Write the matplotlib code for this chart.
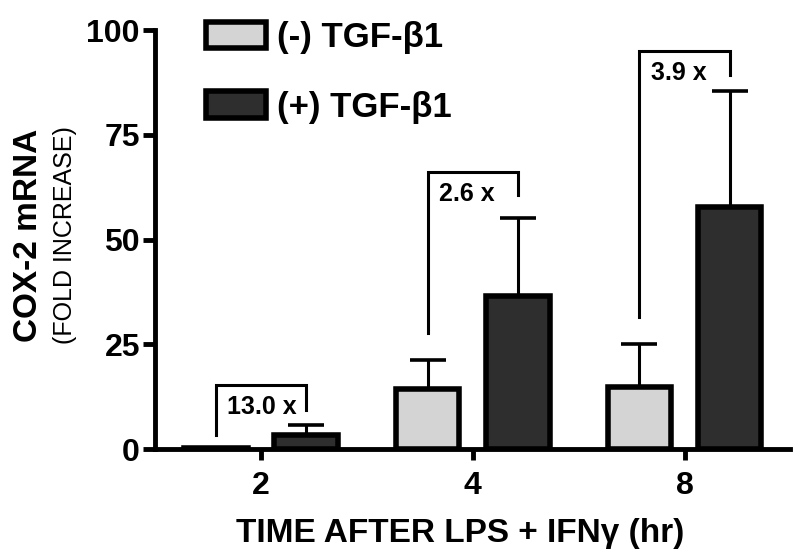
import matplotlib
matplotlib.use("Agg")
import matplotlib.pyplot as plt
from matplotlib.patches import Patch
import numpy as np

plt.rcParams['font.family'] = ['Liberation Sans', 'DejaVu Sans']

categories = ["2", "4", "8"]
minus_tgf = [0.4, 14.3, 14.8]
minus_err = [0.0, 6.9, 10.3]
plus_tgf = [3.5, 36.5, 57.8]
plus_err = [2.2, 18.6, 27.6]
fold_labels = ["13.0 x", "2.6 x", "3.9 x"]
bracket_top = [15.3, 66.1, 95.0]
bracket_left_bottom = [3.3, 27.7, 31.5]
bracket_right_bottom = [9.3, 60.6, 89.3]
series_labels = ["(-) TGF-\u03b21", "(+) TGF-\u03b21"]
yticks = [0, 25, 50, 75, 100]

light = "#d4d4d4"
dark = "#2e2e2e"

fig = plt.figure(figsize=(8, 5.58), dpi=100)
ax = fig.add_axes([0.194, 0.195, 0.794, 0.751])

x = np.arange(len(categories))
off = 0.213
w = 0.30
ax.bar(x - off, minus_tgf, w, color=light, edgecolor="black", linewidth=4, zorder=3)
ax.bar(x + off, plus_tgf, w, color=dark, edgecolor="black", linewidth=4, zorder=3)
ax.errorbar(x - off, minus_tgf, yerr=[np.zeros(3), minus_err], fmt="none",
            ecolor="black", elinewidth=2.2, capsize=13, capthick=2.6, zorder=2)
ax.errorbar(x + off, plus_tgf, yerr=[np.zeros(3), plus_err], fmt="none",
            ecolor="black", elinewidth=2.2, capsize=13, capthick=2.6, zorder=2)

for i in range(len(categories)):
    xl, xr = x[i] - off, x[i] + off
    ax.plot([xl, xl, xr, xr],
            [bracket_left_bottom[i], bracket_top[i], bracket_top[i], bracket_right_bottom[i]],
            color="black", lw=2.2, solid_joinstyle="miter", zorder=4)
    ax.annotate(fold_labels[i], xy=(xl, bracket_top[i]), xytext=(8, -16),
                textcoords="offset points", ha="left", va="center",
                fontsize=18, fontweight="bold")

ax.set_xlim(-0.5, 2.5)
ax.set_ylim(0, 100)
ax.set_xticks(x)
ax.set_xticklabels(categories)
ax.set_yticks(yticks)
ax.tick_params(axis="y", labelsize=23, width=3.5, length=9, direction="out", pad=2)
ax.tick_params(axis="x", labelsize=23, width=3.5, length=8, direction="out", pad=8)
for lab in ax.get_xticklabels() + ax.get_yticklabels():
    lab.set_fontweight("bold")
for s in ["top", "right"]:
    ax.spines[s].set_visible(False)
for s in ["left", "bottom"]:
    ax.spines[s].set_linewidth(3.5)

ax.set_xlabel("TIME AFTER LPS + IFN\u03b3 (hr)", fontsize=24, fontweight="bold")
ax.xaxis.set_label_coords(0.48, -0.2)
ax.xaxis.label.set_va("center")
fig.text(0.036, 0.579, "COX-2 mRNA", rotation=90, fontsize=24, fontweight="bold",
         ha="center", va="center")
fig.text(0.081, 0.579, "(FOLD INCREASE)", rotation=90, fontsize=18,
         ha="center", va="center")

handles = [Patch(facecolor=light, edgecolor="black", linewidth=4),
           Patch(facecolor=dark, edgecolor="black", linewidth=4)]
leg = fig.legend(handles, series_labels, loc="upper left", bbox_to_anchor=(0.257, 0.962),
                 frameon=False, prop={"size": 25, "weight": "bold"},
                 handlelength=1.75, handleheight=0.8, handletextpad=0.3,
                 labelspacing=1.05, borderpad=0, borderaxespad=0)

fig.savefig("out.png", dpi=100)
